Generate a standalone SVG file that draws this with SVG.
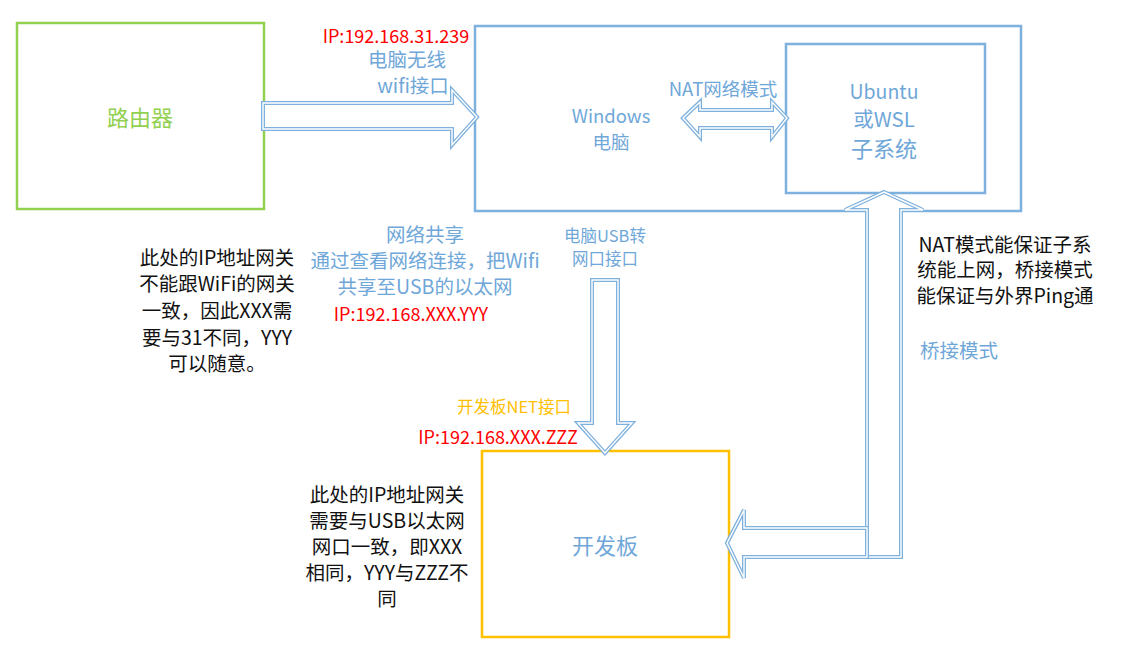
<svg xmlns="http://www.w3.org/2000/svg" xmlns:xlink="http://www.w3.org/1999/xlink" width="1134" height="666" viewBox="0 0 1134 666">
<style>
text{font-family:"Noto Sans CJK SC","Noto Sans",sans-serif;dominant-baseline:central;text-anchor:middle}
.blue{fill:#6FA7D9}
.red{fill:#FF0000}
.blk{fill:#111111}
.org{fill:#FFC000}
.grn{fill:#92D050}
.big{font-size:22px}
.sm{font-size:16.5px}
.bl{font-size:19.5px}
.rd{font-size:18px}
.win{font-size:18.5px}
.box{fill:#FFFFFF;stroke:#7EB1DE;stroke-width:2.5}
.arrA{fill:#FFFFFF;stroke:#7EB1DE;stroke-width:4;stroke-linejoin:miter}
.arrB{fill:none;stroke:#FFFFFF;stroke-width:1.4;stroke-linejoin:miter}
</style>
<defs>
<path id="pRight" d="M263,103 L452,103 L452,90 L477,117 L452,145 L452,129 L263,129 Z"/>
<path id="pNat" d="M683,118 L700,102 L700,110 L772,110 L772,102 L787,118 L772,137 L772,128 L700,128 L700,137 Z"/>
<path id="pDown" d="M592,280 L618,280 L618,423 L632,423 L605,453 L578,423 L592,423 Z"/>
<path id="pLeft" d="M727,543 L744,510 L744,528 L867,528 L867,557 L744,557 L744,578 Z"/>
<path id="pUp" d="M884,192 L923,210 L901,210 L901,557 L867,557 L867,210 L845,210 Z"/>
</defs>
<rect width="1134" height="666" fill="#FFFFFF"/>
<g id="router">
<rect x="17" y="23" width="247" height="186" fill="#FFFFFF" stroke="#92D050" stroke-width="2.5"/>
<text class="grn big" x="140" y="116">路由器</text>
</g>
<g id="windows">
<rect class="box" x="475" y="26" width="546" height="185"/>
<text class="blue win" x="611" y="115">Windows</text>
<text class="blue win" x="611" y="141">电脑</text>
</g>
<g id="ubuntu">
<rect class="box" x="786" y="44" width="199" height="149"/>
<text class="blue" style="font-size:19.5px" x="884" y="90">Ubuntu</text>
<text class="blue" style="font-size:20.5px" x="884" y="118">或WSL</text>
<text class="blue big" x="884" y="147">子系统</text>
</g>
<g id="board">
<rect x="482" y="451" width="247" height="186" fill="#FFFFFF" stroke="#FFC000" stroke-width="2.5"/>
<text class="blue big" x="605" y="544">开发板</text>
</g>
<g id="connectors">
<use href="#pRight" class="arrA"/><use href="#pRight" class="arrB"/>
<use href="#pNat" class="arrA"/><use href="#pNat" class="arrB"/>
<use href="#pDown" class="arrA"/><use href="#pDown" class="arrB"/>
<use href="#pUp" class="arrA"/><use href="#pUp" class="arrB"/>
<use href="#pLeft" class="arrA"/><use href="#pLeft" class="arrB"/>
</g>
<g id="labels">
<text class="red rd" x="396" y="35">IP:192.168.31.239</text>
<text class="blue bl" x="407" y="58">电脑无线</text>
<text class="blue bl" x="413" y="84">wifi接口</text>
<text class="blue win" x="723" y="88">NAT网络模式</text>
<text class="blue bl" x="425" y="233">网络共享</text>
<text class="blue bl" x="425" y="259">通过查看网络连接，把Wifi</text>
<text class="blue bl" x="425" y="285">共享至USB的以太网</text>
<text class="red rd" x="411" y="313">IP:192.168.XXX.YYY</text>
<text class="blue sm" x="605" y="235">电脑USB转</text>
<text class="blue sm" x="605" y="258">网口接口</text>
<text class="org sm" x="514" y="406">开发板NET接口</text>
<text class="red rd" x="498" y="436">IP:192.168.XXX.ZZZ</text>
<text class="blue bl" x="959" y="349">桥接模式</text>
</g>
<g id="note1">
<text class="blk bl" x="217" y="256">此处的IP地址网关</text>
<text class="blk bl" x="217" y="282">不能跟WiFi的网关</text>
<text class="blk bl" x="217" y="309">一致，因此XXX需</text>
<text class="blk bl" x="217" y="336">要与31不同，YYY</text>
<text class="blk bl" x="217" y="362">可以随意。</text>
</g>
<g id="note2">
<text class="blk bl" x="387" y="493">此处的IP地址网关</text>
<text class="blk bl" x="387" y="519">需要与USB以太网</text>
<text class="blk bl" x="387" y="545">网口一致，即XXX</text>
<text class="blk bl" x="387" y="571">相同，YYY与ZZZ不</text>
<text class="blk bl" x="387" y="597">同</text>
</g>
<g id="note3">
<text class="blk bl" x="1005" y="243">NAT模式能保证子系</text>
<text class="blk bl" x="1005" y="268">统能上网，桥接模式</text>
<text class="blk bl" x="1005" y="294">能保证与外界Ping通</text>
</g>
</svg>
